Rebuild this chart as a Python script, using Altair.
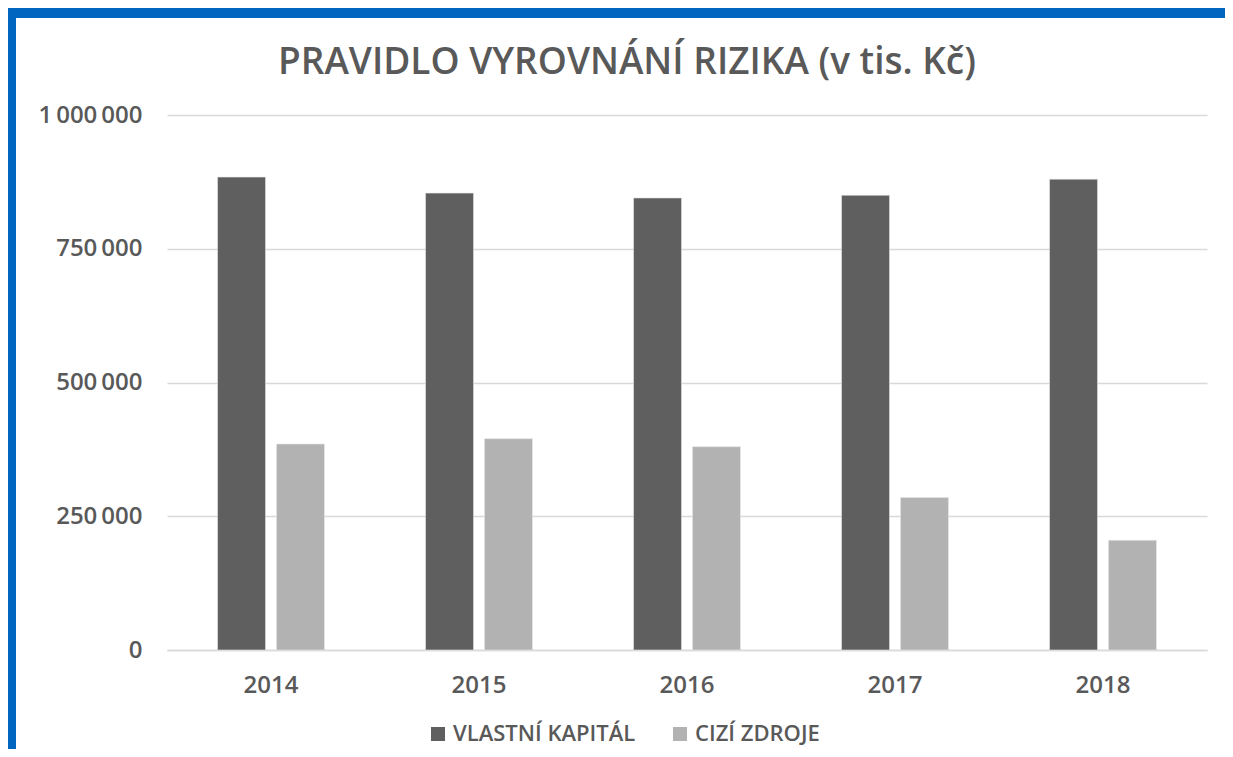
import altair as alt
import pandas as pd

years = ["2014", "2015", "2016", "2017", "2018"]
series = ["VLASTNÍ KAPITÁL", "CIZÍ ZDROJE"]
vlastni = [884000, 854000, 845000, 850000, 880000]
cizi = [385000, 395000, 380000, 285000, 205000]
y_ticks = [0, 250000, 500000, 750000, 1000000]
title_text = "PRAVIDLO VYROVNÁNÍ RIZIKA (v tis. Kč)"

rows = []
for i, yr in enumerate(years):
    rows.append({"rok": yr, "serie": series[0], "hodnota": vlastni[i]})
    rows.append({"rok": yr, "serie": series[1], "hodnota": cizi[i]})
df = pd.DataFrame(rows)

FONT = "Open Sans"
TXT = "#595959"
W, H = 1040, 535

bars = alt.Chart(df).mark_bar(stroke="#e6e6e6", strokeWidth=0.6).encode(
    x=alt.X("rok:N", sort=years, title=None,
            scale=alt.Scale(paddingInner=0.486, paddingOuter=0.243),
            axis=alt.Axis(labelAngle=0, labelFontSize=24, labelFont=FONT,
                          labelFontWeight=600, labelColor=TXT, domain=True,
                          domainColor="#d9d9d9", domainWidth=1.5, ticks=False,
                          labelPadding=23)),
    xOffset=alt.XOffset("serie:N", sort=series,
                        scale=alt.Scale(paddingInner=0.186, paddingOuter=0)),
    y=alt.Y("hodnota:Q", title=None,
            scale=alt.Scale(domain=[0, 1000000], nice=False),
            axis=alt.Axis(values=y_ticks, domain=False, ticks=False,
                          labelFontSize=24, labelFont=FONT, labelFontWeight=600,
                          labelColor=TXT, labelPadding=25,
                          labelExpr="replace(format(datum.value, ','), regexp(',', 'g'), '\u2009')",
                          gridColor="#d9d9d9", gridWidth=1.5)),
    color=alt.Color("serie:N", sort=series,
                    scale=alt.Scale(domain=series, range=["#5f5f5f", "#b2b2b2"]),
                    legend=alt.Legend(title=None, orient="none", direction="horizontal",
                                      legendX=260, legendY=608, symbolType="square",
                                      symbolSize=196, symbolStrokeWidth=0,
                                      labelFontSize=22, labelFont=FONT,
                                      labelFontWeight=600, labelColor=TXT,
                                      labelOffset=4, columnPadding=33,
                                      labelLimit=500, padding=0)),
)

top_band = alt.Chart(alt.Data(values=[{"p": 1}])).mark_rect(color="#0066C0").encode(
    x=alt.value(-159), x2=alt.value(1058), y=alt.value(-107), y2=alt.value(-97))
left_band = alt.Chart(alt.Data(values=[{"p": 1}])).mark_rect(color="#0066C0").encode(
    x=alt.value(-159), x2=alt.value(-151), y=alt.value(-107), y2=alt.value(634))

title = alt.Chart(alt.Data(values=[{"t": title_text}])).mark_text(
    font=FONT, fontSize=37, fontWeight=600, color=TXT, align="center",
    baseline="alphabetic").encode(
    text="t:N", x=alt.value(460), y=alt.value(-41))

chart = alt.layer(top_band, left_band, bars, title).properties(
    width=W, height=H,
    autosize=alt.AutoSizeParams(type="none"),
    padding={"left": 159, "top": 107, "right": 18, "bottom": 99},
).configure(background="white").configure_view(stroke=None)

chart.save("out.html", embed_options={"renderer": "svg", "actions": False})
